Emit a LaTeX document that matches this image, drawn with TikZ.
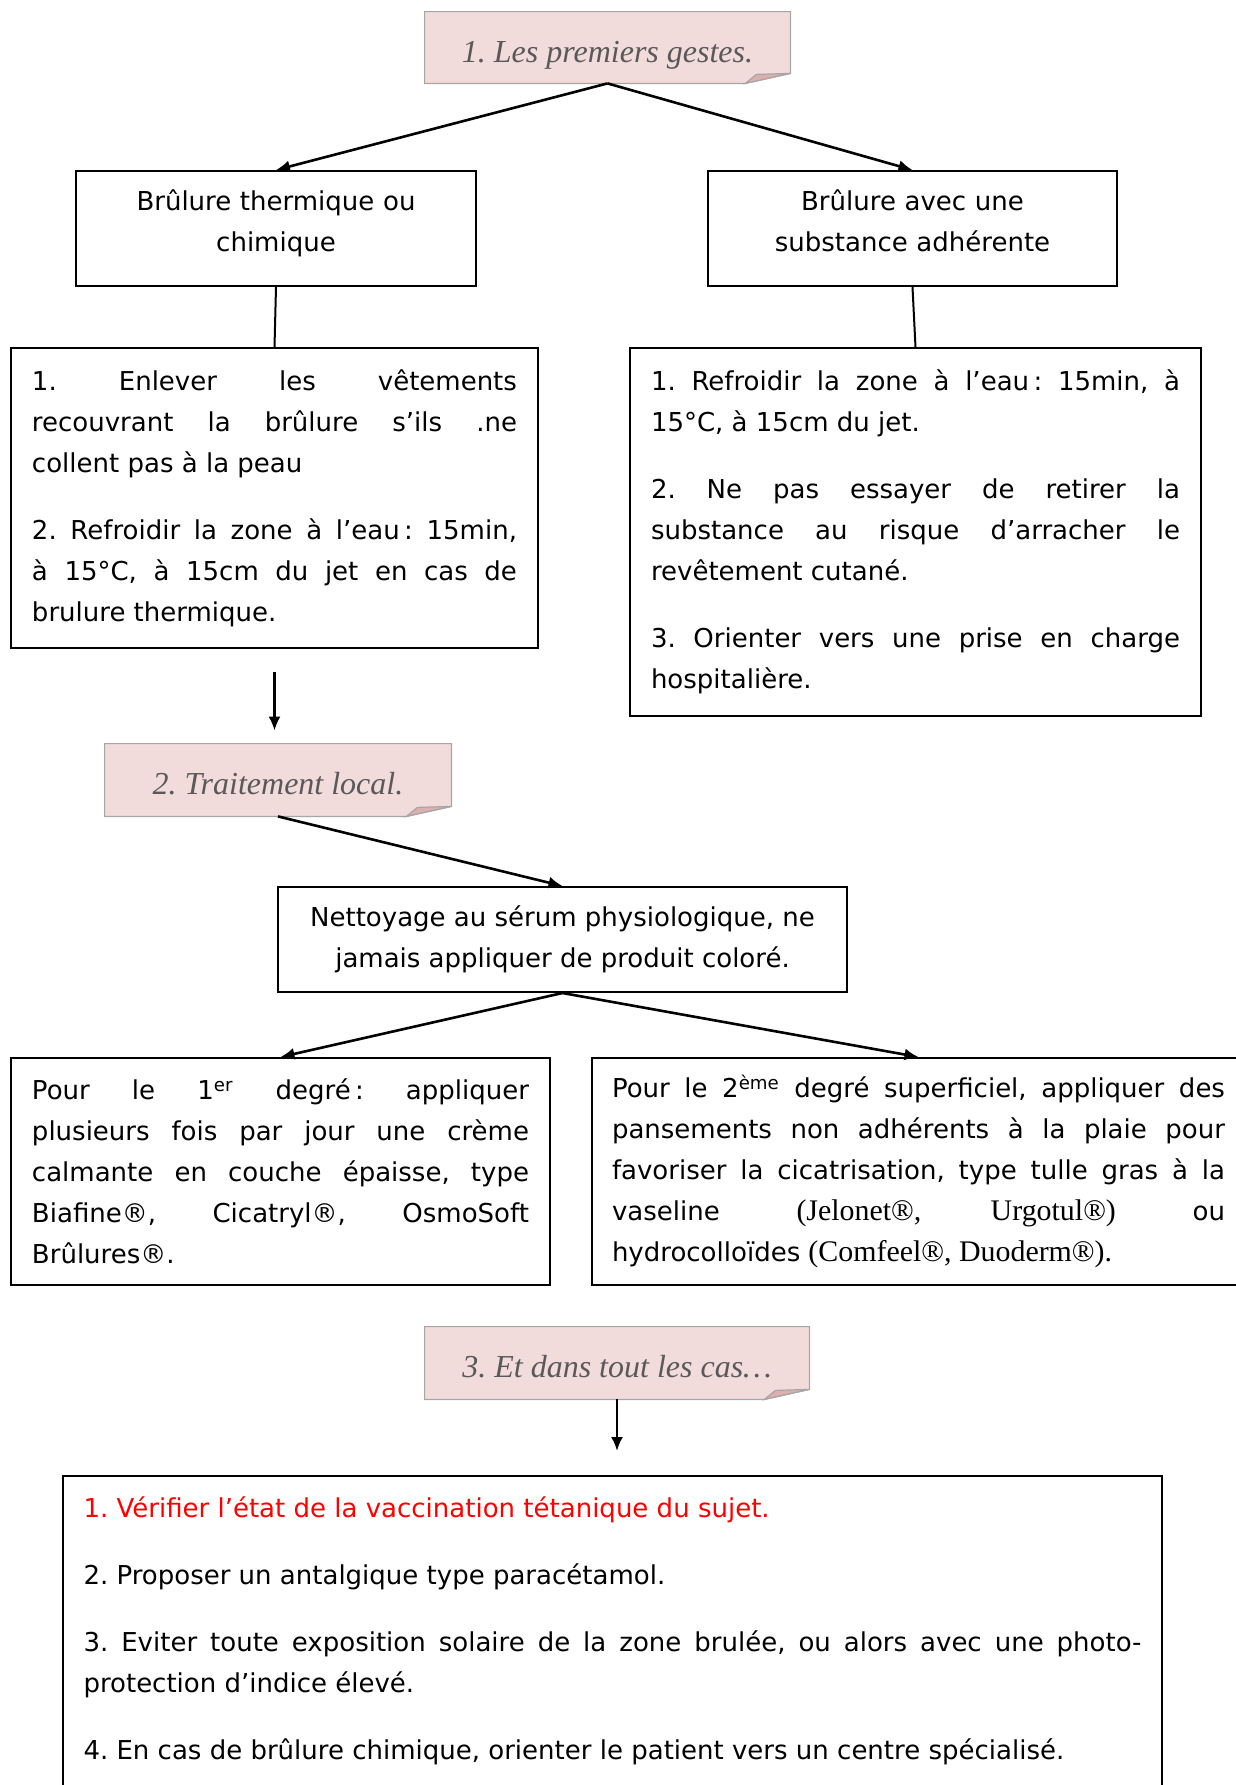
\documentclass[tikz,border=0pt]{standalone}
\usepackage{fontspec}
\setmainfont{DejaVu Sans}
\newfontfamily\notefont{Liberation Serif}
\newfontfamily\brandfont[Scale=1.15]{Liberation Serif}
\usepackage{tikz}
\usetikzlibrary{arrows.meta}
\usetikzlibrary{calc}
\usetikzlibrary{backgrounds}
\definecolor{notepink}{HTML}{F2DCDB}
\definecolor{notefold}{HTML}{DDAFAE}
\definecolor{noteedge}{HTML}{A6A6A6}
\definecolor{notetext}{HTML}{595959}
\definecolor{alertred}{HTML}{FF0000}
\frenchspacing

% space between two items of a box
\newcommand{\itemgap}{\par\vspace{13pt}}

% pink sticky note behind a title node
\newcommand{\foldnote}[1]{%
  \begin{pgfonlayer}{background}
    \filldraw[fill=notepink, draw=noteedge, line width=0.6pt]
      (#1.north west) -- (#1.north east) -- ($(#1.south east)+(0,-10)$)
      -- ($(#1.south east)+(-45,0)$) -- (#1.south west) -- cycle;
    \filldraw[fill=notefold, draw=noteedge, line width=0.6pt]
      ($(#1.south east)+(-45,0)$) -- ($(#1.south east)+(0,-10)$)
      -- ($(#1.south east)+(-34,-9)$) -- cycle;
  \end{pgfonlayer}}

\tikzset{
  box/.style={draw, line width=1pt, inner xsep=10.5pt, inner ysep=4pt,
    font=\fontsize{13}{20.5}\selectfont},
  textbox/.style={box, align=justify},
  headbox/.style={box, align=center, text depth=28pt},
  note/.style={minimum width=#1, minimum height=36pt, inner sep=0pt,
    text height=14.5pt, text depth=0pt,
    font=\notefont\itshape\fontsize{16}{18}\selectfont, text=notetext},
  link/.style={-{Latex[length=7pt,width=6pt]}, line width=1.3pt},
  stem/.style={line width=1pt},
}

\begin{document}
\begin{tikzpicture}[x=0.5pt,y=-0.5pt]
        \useasboundingbox (0,0) rectangle (1236,1785);

        % 1. Premiers gestes
        \node[note=182.5pt, minimum height=35.5pt] (gestes) at (607.5,47.5)
          {1. Les premiers gestes.};
        \foldnote{gestes}

        \node[headbox, text width=179pt, minimum height=57.5pt]
          (thermique) at (276,228.5) {Brûlure thermique ou\\chimique};
        \node[headbox, text width=183.5pt, minimum height=57.5pt]
          (adherente) at (912.5,228.5) {Brûlure avec une\\substance adhérente};

        \node[textbox, text width=242.5pt, minimum height=150pt]
          (thermsoins) at (274.5,498) {%
          1. Enlever les vêtements\linebreak recouvrant la brûlure s’ils .ne\linebreak
          collent pas à la peau\itemgap
          2. Refroidir la zone à l’eau\,: 15min,\linebreak à 15°C, à 15cm du jet en cas de\linebreak
          brulure thermique.};
        \node[textbox, text width=264.5pt, minimum height=184pt]
          (adhsoins) at (915.5,532) {%
          1. Refroidir la zone à l’eau\,: 15min, à\linebreak 15°C, à 15cm du jet.\itemgap
          2. Ne pas essayer de retirer la\linebreak substance au risque d’arracher le\linebreak
          revêtement cutané.\itemgap
          3. Orienter vers une prise en charge\linebreak hospitalière.};

        \draw[link] (gestes.south) -- (thermique.north);
        \draw[link] (gestes.south) -- (adherente.north);
        \draw[stem] (thermique.south) -- (thermsoins.north);
        \draw[stem] (adherente.south) -- (adhsoins.north);

        % 2. Traitement local
        \node[note=173pt] (traitement) at (278,780) {2. Traitement local.};
        \foldnote{traitement}
        \draw[link, shorten <=11.5pt, shorten >=6.5pt]
          (thermsoins.south) -- (thermsoins.south |- traitement.north);

        \node[box, align=center, minimum width=284.5pt, minimum height=52.5pt]
          (nettoyage) at (562.5,939.5)
          {Nettoyage au sérum physiologique, ne\\jamais appliquer de produit coloré.};
        \draw[link] (traitement.south) -- (nettoyage.north);

        \node[textbox, text width=248.5pt, minimum height=113.5pt]
          (premier) at (280.5,1171.5) {%
          Pour le 1\textsuperscript{er} degré\,: appliquer\linebreak
          plusieurs fois par jour une crème\linebreak
          calmante en couche épaisse, type\linebreak
          Biafine®, Cicatryl®, OsmoSoft\linebreak Brûlures®.};
        \node[textbox, text width=306.5pt, inner xsep=10pt, minimum height=113.5pt]
          (second) at (918.5,1171.5) {%
          Pour le 2\textsuperscript{ème} degré superficiel, appliquer des\linebreak
          pansements non adhérents à la plaie pour\linebreak
          favoriser la cicatrisation, type tulle gras à la\linebreak
          vaseline {\brandfont (Jelonet®, Urgotul®)} ou\linebreak
          hydrocolloïdes {\brandfont (Comfeel®, Duoderm®).}};
        \draw[link] (nettoyage.south) -- (premier.north);
        \draw[link] (nettoyage.south) -- (second.north);

        % 3. Dans tous les cas
        \node[note=192pt] (cas) at (617,1363) {3. Et dans tout les cas…};
        \foldnote{cas}

        \node[textbox, text width=529pt, inner xsep=10.25pt, inner ysep=10.5pt,
          anchor=north] (rappels) at (612.5,1475) {%
          {\color{alertred}1. Vérifier l’état de la vaccination tétanique du sujet.}\itemgap
          2. Proposer un antalgique type paracétamol.\itemgap
          3. Eviter toute exposition solaire de la zone brulée, ou alors avec une photo-\linebreak
          protection d’indice élevé.\itemgap
          4. En cas de brûlure chimique, orienter le patient vers un centre spécialisé.
          \par\rule{0pt}{40pt}};
        \draw[link, shorten >=12pt] (cas.south) -- (cas.south |- rappels.north);

\end{tikzpicture}
\end{document}
